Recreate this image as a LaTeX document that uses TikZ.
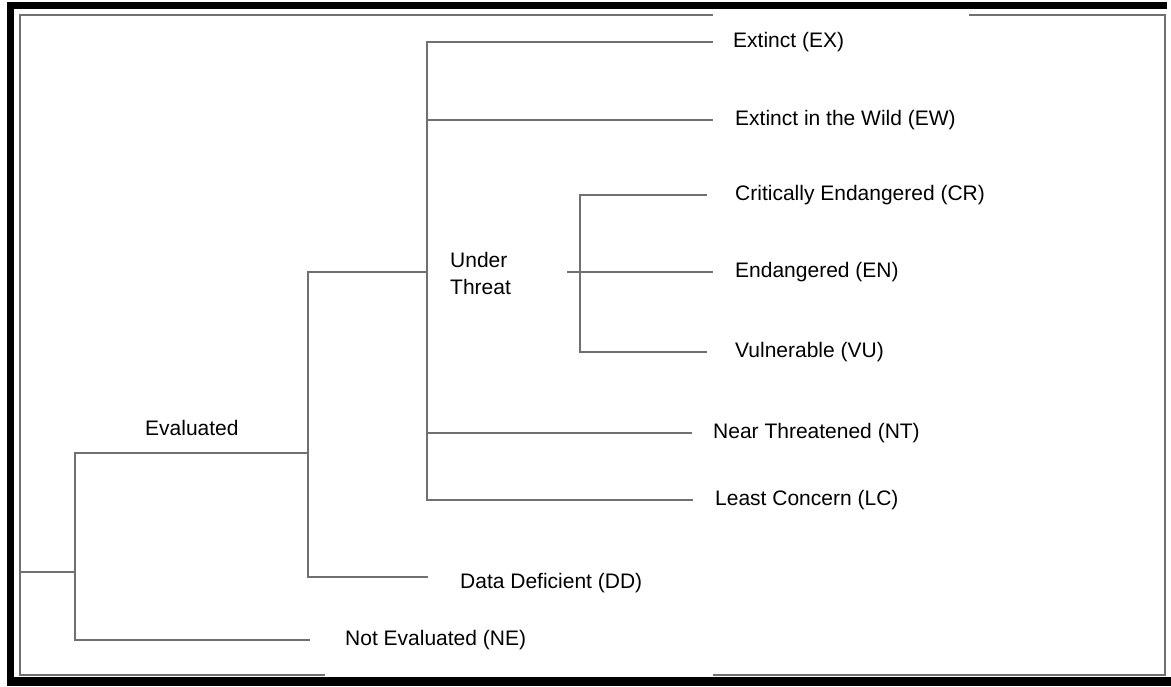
\documentclass[tikz,border=0pt]{standalone}
\usepackage{fontspec}
\setmainfont{Liberation Sans}
\definecolor{branchgray}{RGB}{112,112,112}

\begin{document}
\begin{tikzpicture}[x=1pt, y=-1pt]
\tikzstyle{every node}=[anchor=west, inner sep=0pt, font=\fontsize{21}{25}\selectfont];
\tikzstyle{branch}=[draw=branchgray, line width=2pt];
\tikzstyle{frame}=[draw=branchgray, line width=1.8pt];
\useasboundingbox (0,0) rectangle (1171,686);
\fill[white] (0,0) rectangle (1171,686);
% outer border
\draw[line width=7pt] (1167,5.5) -- (10,5.5) -- (10,686);
\fill (7,677) rectangle (1171,686);
\draw[frame] (713,15) -- (20,15) -- (20,675) -- (325,675);
\draw[frame] (713,675) -- (1165,675) -- (1165,15) -- (969,15);
% labels
\node (ex) at (733,42) {Extinct (EX)};
\node (ew) at (735,120) {Extinct in the Wild (EW)};
\node (cr) at (735,195) {Critically Endangered (CR)};
\node (en) at (735,272) {Endangered (EN)};
\node (vu) at (735,352) {Vulnerable (VU)};
\node (nt) at (713,433) {Near Threatened (NT)};
\node (lc) at (715,500) {Least Concern (LC)};
\node (dd) at (460,583) {Data Deficient (DD)};
\node (ne) at (345,640) {Not Evaluated (NE)};
\node (ev) at (145,428) {Evaluated};
\node[align=left, font=\fontsize{21}{27}\selectfont] (ut) at (450,273) {Under\\Threat};
% junctions
\coordinate (root) at (20,572);
\coordinate (a) at (75,572);
\coordinate (evl) at (308,453);
\coordinate (utl) at (427,272);
\coordinate (thr) at (580,272);
% tree
\draw[branch] (root) -- (a);
\draw[branch] (evl) -| (a) |- ([xshift=-35pt]ne.west);
\draw[branch] (utl) -| (evl) |- ([xshift=-32pt,yshift=6pt]dd.west);
\draw[branch] ([xshift=-20pt]ex.west) -| (utl |- lc.west) -- ([xshift=-22pt]lc.west);
\foreach \n/\g in {ew/22, nt/21}
{
\draw[branch] (utl |- \n.west) -- ([xshift=-\g pt]\n.west);
}
\draw[branch] ([xshift=-28pt]cr.west) -| (thr) |- ([xshift=-28pt]vu.west);
\draw[branch] (thr) ++(-13,0) -- ([xshift=-22pt]en.west);
\end{tikzpicture}
\end{document}
